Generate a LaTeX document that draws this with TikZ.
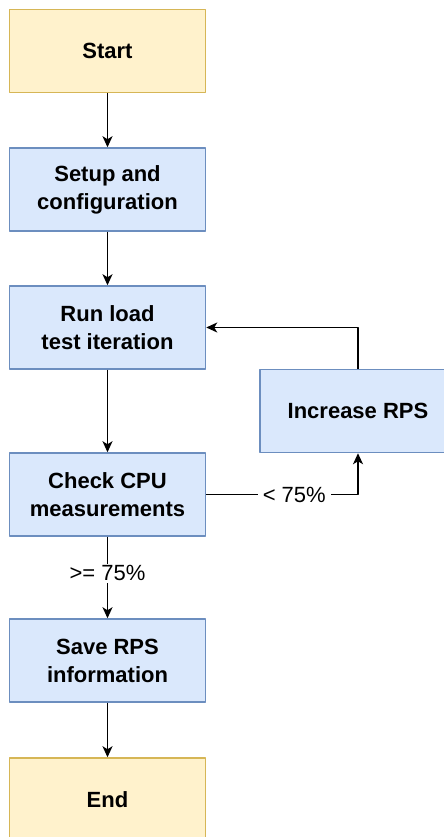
\documentclass[tikz,border=0pt]{standalone}
\usepackage{fontspec}
\setmainfont{Liberation Sans}
\usetikzlibrary{arrows.meta}
\definecolor{fillyellow}{HTML}{FFF2CC}
\definecolor{strokeyellow}{HTML}{D6B656}
\definecolor{fillblue}{HTML}{DAE8FC}
\definecolor{strokeblue}{HTML}{6C8EBF}

\begin{document}
\begin{tikzpicture}[>={Stealth[length=11bp,width=10bp,inset=3bp]},line join=bevel,line width=1.5bp,
  yellowbox/.style={draw=strokeyellow,fill=fillyellow,minimum width=196bp,minimum height=83bp,inner sep=0pt,align=center,font=\fontsize{22bp}{28bp}\selectfont\bfseries},
  bluebox/.style={yellowbox,draw=strokeblue,fill=fillblue},
  lbl/.style={fill=white,inner xsep=5bp,inner ysep=2bp,font=\fontsize{22bp}{28bp}\selectfont}]
\useasboundingbox (0bp,0bp) rectangle (444bp,837bp);
%%
\node (node_start) at (107.5bp,786bp) [yellowbox] {Start};
  \node (node_setup) at (107.5bp,647.5bp) [bluebox] {Setup and\\configuration};
  \node (node_run) at (107.5bp,509.5bp) [bluebox] {Run load\\test iteration};
  \node (node_check) at (107.5bp,342.5bp) [bluebox] {Check CPU\\measurements};
  \node (node_increase) at (358bp,426bp) [bluebox] {Increase RPS};
  \node (node_save) at (107.5bp,176.5bp) [bluebox] {Save RPS\\information};
  \node (node_end) at (107.5bp,37.5bp) [yellowbox] {End};
  \draw [black,->] (node_start) -- (node_setup);
  \draw [black,->] (node_setup) -- (node_run);
  \draw [black,->] (node_run) -- (node_check);
  \draw [black,->] (node_check) -- node[lbl,pos=0.45] {>= 75\%} (node_save);
  \draw [black,->] (node_save) -- (node_end);
  \draw [black,->] (node_check.east) -| node[lbl,pos=0.29] {< 75\%} (node_increase.south);
  \draw [black,->] (node_increase.north) |- (node_run.east);
%
\end{tikzpicture}
\end{document}
